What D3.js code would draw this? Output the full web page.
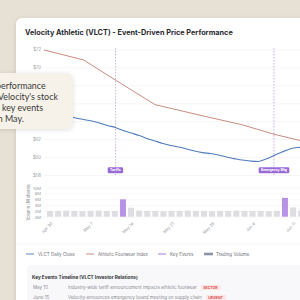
<!DOCTYPE html>
<html><head><meta charset="utf-8">
<script src="https://cdn.jsdelivr.net/npm/d3@7/dist/d3.min.js"></script>
<style>
html,body{margin:0;padding:0;width:300px;height:300px;overflow:hidden;background:#e7e0d4;}
svg{display:block;font-family:Inter, "Noto Sans", sans-serif;}
</style></head>
<body>
<svg id="c" width="300" height="300"></svg>
<script>
// ---- data ----
const chartTitle = "Velocity Athletic (VLCT) - Event-Driven Price Performance";
const dayIndex = d3.range(34);
const closeValues = [65.14,65.03,64.80,64.58,64.36,64.19,64.02,63.80,63.52,63.30,62.96,62.68,62.40,62.07,61.79,61.51,61.29,61.12,60.90,60.68,60.50,60.39,60.23,60.00,59.83,59.67,59.56,59.50,59.78,60.17,60.56,60.90,61.06,61.10];
const indexDays = [0,5,9,14,20,25,29,33];
const indexValues = [71.95,70.83,68.60,65.85,64.60,63.60,62.55,61.70];
const priceTicks = [58,60,62,64,66,68,70,72];
const volumeValues = [2.0,2.0,2.1,2.0,1.9,2.0,2.1,2.0,2.0,6.0,3.1,2.1,2.0,2.0,1.9,2.0,2.0,2.1,2.0,2.0,1.9,2.0,2.0,2.1,2.0,2.0,2.0,1.9,2.0,6.5,3.2,2.1];
const volumeTicks = [0,2,4,6,8,10];
const tickDays = [0,5,10,15,20,25,30];
const tickLabels = ["Apr 30","May 7","May 14","May 21","May 28","Jun 4","Jun 11"];
const eventDays = [9,29];
const eventLabels = ["Tariffs","Emergency Mtg"];
const legendLabels = ["VLCT Daily Close","Athletic Footwear Index","Key Events","Trading Volume"];
const timelineDates = ["May 15","June 15"];
const timelineTexts = ["Industry-wide tariff announcement impacts athletic footwear","Velocity announces emergency board meeting on supply chain"];
const timelineTags = ["SECTOR","URGENT"];
const captionPrefix = ["Stock p","of ","around ","in "];
const captionVisible = ["erformance","Velocity's stock","key events","May."];

// ---- styles ----
const BLUE="#4f7cba", RED="#c27f72", PURPLE="#9a6bd6", PURPLE_BAR="#b892e4", GRAY_BAR="#dddde2";
const svg = d3.select("#c");
const defs = svg.append("defs");
const sh = defs.append("filter").attr("id","sh").attr("x","-20%").attr("y","-20%").attr("width","140%").attr("height","140%");
sh.append("feDropShadow").attr("dx",0).attr("dy",1).attr("stdDeviation",2).attr("flood-color","#000").attr("flood-opacity",0.12);

function badge(parent, cx, cy, label, opts){
  const g = parent.append("g");
  const r = g.append("rect");
  const t = g.append("text").attr("x",cx).attr("y",cy).attr("text-anchor",opts.anchor||"middle").text(label)
    .attr("font-size",opts.fs).attr("font-weight",700).attr("fill",opts.color).attr("dominant-baseline","central");
  const bb = t.node().getBBox();
  r.attr("x",bb.x-opts.px).attr("y",cy-opts.h/2).attr("width",bb.width+2*opts.px).attr("height",opts.h).attr("rx",opts.rx).attr("fill",opts.bg);
  return g;
}

// card
svg.append("rect").attr("x",16).attr("y",18).attr("width",310).attr("height",320).attr("rx",6).attr("fill","#fff").attr("filter","url(#sh)");
svg.append("text").attr("x",25).attr("y",35).text(chartTitle).attr("font-size",7.3).attr("font-weight",700).attr("fill","#2a2a2e");

// scales
const x = d3.scaleLinear().domain([0,33]).range([44, 44+33*7.93]);
const y = d3.scaleLinear().domain([58,72]).range([175,49.5]);
const xb = d3.scaleBand().domain(d3.range(volumeValues.length)).range([46, 46+volumeValues.length*8.1]).paddingInner(0.26).paddingOuter(0.13);
const yv = d3.scaleLinear().domain([0,10]).range([216.7,187.7]);

// price grid + axis
const gy = svg.append("g").attr("transform","translate(44,0)").call(d3.axisLeft(y).tickValues(priceTicks).tickFormat(d=>"$"+d).tickSize(-300).tickPadding(3));
gy.select(".domain").remove();
gy.selectAll("line").attr("stroke","#efeff1").attr("stroke-width",0.6);
gy.selectAll("text").attr("font-size",4.3).attr("fill","#9a9aa0").attr("font-family","Inter");

// event lines
eventDays.forEach((d,i)=>{
  svg.append("line").attr("x1",x(d)).attr("x2",x(d)).attr("y1",48).attr("y2",175)
    .attr("stroke",PURPLE).attr("stroke-width",0.7).attr("stroke-dasharray","1.5,1.5").attr("opacity",0.8);
});

// lines
const lineIdx = d3.line().x((d,i)=>x(indexDays[i])).y(d=>y(d));
svg.append("path").attr("d",lineIdx(indexValues)).attr("fill","none").attr("stroke",RED).attr("stroke-width",0.9);
const lineClose = d3.line().x((d,i)=>x(dayIndex[i])).y(d=>y(d)).curve(d3.curveMonotoneX);
svg.append("path").attr("d",lineClose(closeValues)).attr("fill","none").attr("stroke",BLUE).attr("stroke-width",1.1);

// event badges
eventDays.forEach((d,i)=>{
  badge(svg, x(d), 170.3, eventLabels[i], {fs:3.4, color:"#fff", bg:PURPLE, px:2.3, h:6, rx:1.3});
});

// volume grid + axis
const gv = svg.append("g").attr("transform","translate(44,0)").call(d3.axisLeft(yv).tickValues(volumeTicks).tickFormat(d=>d+"M").tickSize(-300).tickPadding(3));
gv.select(".domain").remove();
gv.selectAll("line").attr("stroke","#f1f1f3").attr("stroke-width",0.5);
gv.selectAll("text").attr("font-size",4.1).attr("fill","#9a9aa0").attr("font-family","Inter");
svg.append("text").attr("transform","translate(30,202) rotate(-90)").attr("text-anchor","middle").text("Volume (M shares)")
  .attr("font-size",4.2).attr("fill","#8a8a90");

svg.append("g").selectAll("rect").data(volumeValues).join("rect")
  .attr("x",(d,i)=>xb(i)).attr("width",xb.bandwidth()).attr("y",d=>yv(d)).attr("height",d=>yv(0)-yv(d))
  .attr("fill",(d,i)=>eventDays.includes(i)?PURPLE_BAR:GRAY_BAR);

// x tick labels
svg.append("g").selectAll("text").data(tickDays).join("text")
  .attr("transform",(d,i)=>`translate(${xb(d)+xb.bandwidth()/2+2},223) rotate(-45)`)
  .attr("text-anchor","end").attr("dy","0.3em").text((d,i)=>tickLabels[i])
  .attr("font-size",4.2).attr("fill","#9a9aa0");

// legend separator
svg.append("line").attr("x1",16).attr("x2",300).attr("y1",244).attr("y2",244).attr("stroke","#f0f0f2").attr("stroke-width",0.6);
// legend
const lg = [{x:26,c:BLUE,t:"line"},{x:86,c:RED,t:"line"},{x:158,c:PURPLE,t:"line"},{x:204,c:"#8f93a8",t:"rect"}];
lg.forEach((l,i)=>{
  if(l.t==="line") svg.append("line").attr("x1",l.x).attr("x2",l.x+8).attr("y1",254).attr("y2",254).attr("stroke",l.c).attr("stroke-width",0.9);
  else svg.append("rect").attr("x",l.x).attr("y",252.7).attr("width",9).attr("height",2.6).attr("fill",l.c);
  svg.append("text").attr("x",l.x+12).attr("y",255.6).text(legendLabels[i]).attr("font-size",4.5).attr("fill","#6e6e76");
});

// timeline box
svg.append("rect").attr("x",27).attr("y",265).attr("width",290).attr("height",50).attr("rx",3).attr("fill","#f8f8fa");
svg.append("text").attr("x",32).attr("y",278.5).text("Key Events Timeline (VLCT Investor Relations)").attr("font-size",4.7).attr("font-weight",700).attr("fill","#33333a");
timelineDates.forEach((d,i)=>{
  const yy = 289 + i*10;
  svg.append("text").attr("x",33).attr("y",yy).text(d).attr("font-size",4.5).attr("fill","#8a8a92");
  const t = svg.append("text").attr("x",68).attr("y",yy).text(timelineTexts[i]).attr("font-size",4.5).attr("fill","#8a8a92");
  const w = t.node().getComputedTextLength();
  badge(svg, 68 + w + 6.5, yy-1.5, timelineTags[i], {fs:3.5, color:"#d9534f", bg:"#fde6e8", px:2.5, h:5.6, rx:1, anchor:"start"});
});

// caption overlay
svg.append("rect").attr("x",-20).attr("y",73).attr("width",93).attr("height",56).attr("rx",6).attr("fill","#f6f2ea").attr("filter","url(#sh)");
const capX = [1,-2,2,5];
captionVisible.forEach((s,i)=>{
  const yy = 89 + i*11;
  const t = svg.append("text").attr("y",yy).text(captionPrefix[i] + s)
    .attr("font-size",8.9).attr("font-family","Lato, sans-serif").attr("fill","#3a3835");
  const pw = t.node().getSubStringLength(0, captionPrefix[i].length);
  t.attr("x", capX[i] - pw);
});
</script>
</body></html>
